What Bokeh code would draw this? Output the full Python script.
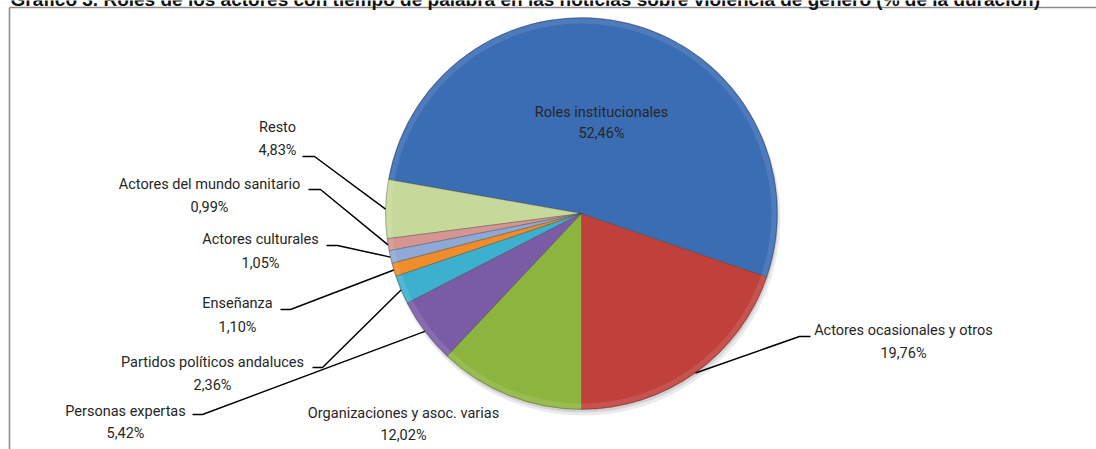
import math
from bokeh.plotting import figure
from bokeh.models import Range1d, ColumnDataSource
from bokeh.core.properties import value
from bokeh.embed import file_html
from bokeh.resources import INLINE

# ---- data (drawing order, counter-clockwise from straight down) ----
categories = ["Actores ocasionales y otros", "Roles institucionales", "Resto",
              "Actores del mundo sanitario", "Actores culturales", "Enseñanza",
              "Partidos políticos andaluces", "Personas expertas",
              "Organizaciones y asoc. varias"]
shares = [19.76, 52.46, 4.83, 0.99, 1.05, 1.10, 2.36, 5.42, 12.02]
colors = ["#C0403B", "#3B6DB5", "#C6D99A", "#D69592", "#8EA9D5", "#EF8C2C",
          "#3DB0CD", "#7A5CA6", "#8DB43F"]
title = ("Gráfico 3. Roles de los actores con tiempo de palabra en las noticias "
         "sobre violencia de género (% de la duración)")

W, H = 1096, 449
CX, CY, R = 581, 213, 196          # pie centre / radius in screen pixels

# label layout (screen px): centre x, line-1 y, line-2 y, leader elbow (x1, x2, y) or None
label_layout = {
    "Roles institucionales": (601, 112, 133, None),
    "Actores ocasionales y otros": (903, 330, 353, (810, 799, 336)),
    "Organizaciones y asoc. varias": (403, 413, 435, None),
    "Personas expertas": (125, 411, 433, (192, 202, 414)),
    "Partidos políticos andaluces": (212, 362, 385, (312, 322, 367)),
    "Enseñanza": (237, 303, 327, (280, 290, 309)),
    "Actores culturales": (260, 239, 263, (326, 337, 245)),
    "Actores del mundo sanitario": (209, 184, 207, (308, 320, 189)),
    "Resto": (277, 127, 150, (302, 314, 156)),
}

def fy(py):
    return H - py

p = figure(width=W, height=H, output_backend="svg", toolbar_location=None,
           x_range=Range1d(0, W), y_range=Range1d(0, H),
           min_border=0, min_border_left=0, min_border_right=0,
           min_border_top=0, min_border_bottom=0)
p.axis.visible = False
p.grid.visible = False
p.outline_line_color = None
p.background_fill_color = "white"
p.border_fill_color = "white"

# frame
p.segment(x0=[9, 9], y0=[fy(7), fy(7)], x1=[W, 9], y1=[fy(7), 0],
          line_color="#8C8C8C", line_width=1.6)

# title (top cut by the page edge, as in the original)
p.text(x=[10], y=[fy(9)], text=[title], text_font=value("Liberation Sans"),
       text_font_style="bold", text_font_size="19px", text_baseline="bottom",
       text_align="left", text_color="#111111")

# angles
total = sum(shares)
start = -math.pi / 2
starts, ends, mids = [], [], []
for v in shares:
    a = v / total * 2 * math.pi
    starts.append(start)
    ends.append(start + a)
    mids.append(start + a / 2)
    start += a

# soft shadow, mostly below the pie
p.circle(x=[CX + 2], y=[fy(CY + 5)], radius=R + 1, fill_color="#000000",
         fill_alpha=0.08, line_color=None)
p.circle(x=[CX + 1], y=[fy(CY + 3)], radius=R, fill_color="#000000",
         fill_alpha=0.10, line_color=None)

src = ColumnDataSource(dict(start=starts, end=ends, color=colors))
p.wedge(x=CX, y=fy(CY), radius=R, start_angle="start", end_angle="end",
        fill_color="color", line_color="#3a3a3a", line_alpha=0.45,
        line_width=0.8, source=src)
# subtle rim bevel
p.annular_wedge(x=CX, y=fy(CY), inner_radius=R - 6, outer_radius=R - 1,
                start_angle="start", end_angle="end", fill_color="#ffffff",
                fill_alpha=0.10, line_color=None, source=src)

# labels
names_x, names_y, names_t = [], [], []
pct_x, pct_y, pct_t = [], [], []
lx, ly = [], []
for cat, v, m in zip(categories, shares, mids):
    cx, y1, y2, elbow = label_layout[cat]
    names_x.append(cx); names_y.append(fy(y1)); names_t.append(cat)
    pct_x.append(cx); pct_y.append(fy(y2))
    pct_t.append(f"{v:.2f}".replace(".", ",") + "%")
    if elbow is not None:
        ex1, ex2, ey = elbow
        px = CX + R * math.cos(m)
        py = CY - R * math.sin(m)
        lx.append([ex1, ex2, px])
        ly.append([fy(ey), fy(ey), fy(py)])

p.multi_line(xs=lx, ys=ly, line_color="#000000", line_width=1.5)

font = value("Roboto")
p.text(x=names_x, y=names_y, text=names_t, text_font=font, text_font_size="14.5px",
       text_align="center", text_baseline="middle", text_color="#262626")
p.text(x=pct_x, y=pct_y, text=pct_t, text_font=font, text_font_size="14.5px",
       text_align="center", text_baseline="middle", text_color="#262626")

open("out.html", "w").write(file_html(p, INLINE))
